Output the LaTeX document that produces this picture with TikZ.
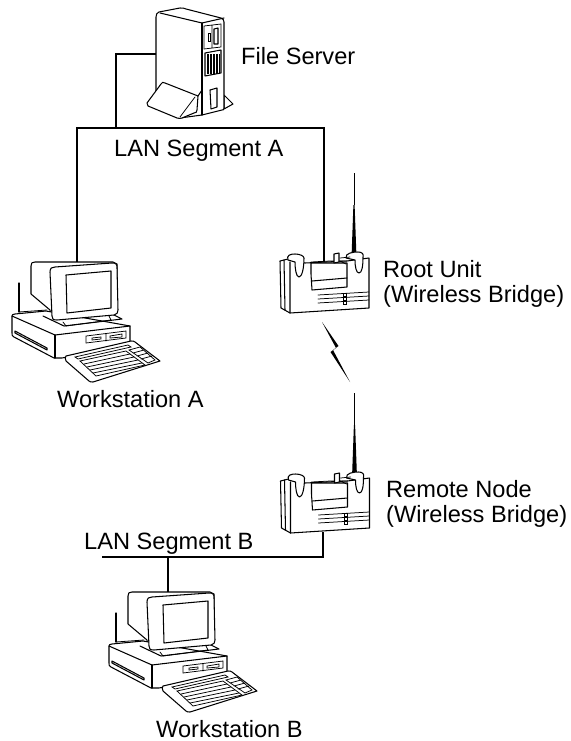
\documentclass[tikz,border=0pt]{standalone}
\usepackage{fontspec}
\setmainfont{Liberation Sans}
\tikzset{
  x=1pt,y=-1pt,
  lan/.style={line width=2.5pt,line join=miter},
  ln/.style={line width=1.05pt,line join=round,line cap=round},
  thin ln/.style={line width=.75pt,line cap=round},
  lbl/.style={font=\fontsize{23.6pt}{25pt}\selectfont,inner sep=0pt,align=left,anchor=base west},
  pics/workstation/.style={code={
    % wire and monitor back
    \draw[ln] (19,283) -- (19,312);
    \draw[ln,line width=.8pt] (19,312) -- (47,310);
    \draw[ln,fill=white] (50,310) -- (31,294) -- (31,266) .. controls (31,263) and (32,262) .. (35,262) -- (113,262) -- (117,264) -- (117,290) -- (52,320) -- cycle;
    % base
    \draw[ln,fill=white] (12,316) .. controls (12,315) and (13,314) .. (15,314) -- (46,311) -- (130,326) -- (130,344) -- (62,358) -- (54,358) -- (14,337) .. controls (12,336) and (12,335) .. (12,333) -- cycle;
    \draw[ln] (12,316) -- (55,335) -- (130,326);
    \draw[ln] (55,335) -- (55,358);
    \draw[ln] (43,316) -- (64,326) -- (122,319) -- (110,313);
    % slot
    \draw[ln] (15,331) -- (47,348) -- (47,350) -- (15,333) -- cycle;
    % drive
    \draw[thin ln] (86,336) -- (126,331) -- (126,338) -- (86,343) -- cycle (106,334) -- (106,341);
    \draw[thin ln] (92,338) -- (101,337) -- (101,339) -- (92,340) -- cycle (110,336) -- (122,334) -- (122,337) -- (110,338) -- cycle;
    % monitor front
    \draw[ln,fill=white] (50,272) .. controls (50,268) and (52,267) .. (55,267) -- (112,263) .. controls (116,263) and (117,264) .. (117,268) -- (118,310) .. controls (118,313) and (117,314) .. (114,315) -- (57,320) .. controls (53,320) and (52,319) .. (52,316) -- cycle;
    \draw[ln] (66,275) -- (111,271) -- (111,308) -- (67,313) -- cycle;
    \draw[thin ln] (63,322) -- (66,326) -- (111,320) -- (109,316);
    % keyboard
    \draw[ln,fill=white] (66,356) -- (131,341) .. controls (133,341) and (134,341) .. (135,342) -- (160,361) -- (93,382) .. controls (91,382) and (90,382) .. (89,381) -- (66,361) .. controls (65,359) and (65,357) .. (66,356) -- cycle;
    \draw[thin ln] (75,357) -- (128,345) -- (131,347) -- (78,359) -- cycle;
    \draw[thin ln] (80,361) -- (126,351) -- (145,365) -- (96,376) -- cycle;
    \draw[thin ln] (84,364) -- (130,354) (87,367) -- (134,357) (90,370) -- (138,360) (93,373) -- (142,363);
    \draw[thin ln] (129,350) -- (140,347) -- (155,360) -- (148,363) -- cycle (133,353) -- (144,350) (137,356) -- (148,353) (141,359) -- (152,356);
  }},
  pics/bridge/.style={code={
    % antenna
    \draw[line width=1pt] (354,173) -- (354,205);
    \fill (353.4,205) -- (354.6,205) -- (356.3,252) -- (351.7,252) -- cycle;
    % body
    \draw[ln,fill=white] (280,261) -- (281,308) -- (290,313) -- (369,308) -- (369,258) -- (347,261) -- (305,263) -- (288,259) -- cycle;
    \draw[ln] (284,260) -- (285,310) (290,262) -- (290,313);
    % ears
    \draw[ln,fill=white] (288,260) .. controls (286,255) and (291,254) .. (295,254) .. controls (300,254) and (304,256) .. (304,258) .. controls (304,268) and (302,277) .. (299,277) .. controls (296,277) and (295,268) .. (295,262) -- cycle;
    \draw[ln,fill=white] (346,258) .. controls (345,253) and (353,252) .. (358,252) .. controls (362,252) and (364,254) .. (363,257) .. controls (363,266) and (362,273) .. (359,273) .. controls (356,273) and (355,266) .. (355,260) -- cycle;
    % window
    \draw[ln,fill=white] (311,263) -- (311,274) -- (312,290) -- (347,287) -- (347,263) -- cycle;
    \draw[ln] (312,281) -- (347,278);
    \draw[thin ln] (311,262) -- (330,261) -- (347,261);
    % post
    \draw[ln,fill=white] (334,254) -- (339,253) -- (339,262) -- (334,263) -- cycle;
    \draw[thin ln] (340,258) -- (350,257) (340,261) -- (346,264);
    % stripes
    \draw[thin ln] (318,295) -- (369,292) (318,299) -- (369,296) (318,303) -- (369,300);
    \foreach \yy in {293,297,301} \draw[line width=.7pt,fill=white] (343.5,\yy) rectangle (346.5,\yy+3);
  }},
  pics/server/.style={code={
    \draw[ln,fill=white] (224,95) -- (233,104) -- (224,109) -- cycle;
    \draw[ln,fill=white] (156,17) .. controls (156,14) and (157,13) .. (159,12) -- (180,8) .. controls (183,8) and (184,8) .. (186,9) -- (221,18) .. controls (223,19) and (224,20) .. (224,22) -- (224,108) .. controls (224,110) and (223,110) .. (222,110) -- (202,115) -- (180,118) -- (156,100) -- cycle;
    \draw[ln] (160,13) -- (202,23) -- (224,18);
    \draw[ln] (202,23) -- (202,115);
    % drives
    \draw[thin ln] (204,26) -- (221,24) -- (221,47) -- (204,49) -- cycle (212,25) -- (212,48);
    \draw[thin ln] (208,33) -- (208,41) -- (210,41) -- (210,33) -- cycle;
    \draw[ln] (214,29) -- (214,44) -- (218,44) -- (218,28) -- cycle;
    % grille
    \draw[ln] (205,53) -- (221,50) -- (221,73) -- (205,76) -- cycle;
    \foreach \xx in {207,208.5,...,219.5} \draw[line width=.5pt] (\xx,54) -- (\xx,74);
    % slot
    \draw[ln] (210,90) -- (217,88) -- (217,107) -- (211,109) -- cycle;
    % stand
    \draw[ln,fill=white] (147,103) -- (161,84) .. controls (162,82) and (163,82) .. (165,83) -- (198,96) -- (197,110) .. controls (197,112) and (196,113) .. (194,113) -- (182,118) .. controls (180,119) and (179,118) .. (177,118) -- (148,106) .. controls (147,105) and (147,104) .. (147,103) -- cycle;
    \draw[thin ln] (195,97) -- (180,117);
    \draw[ln] (198,96) -- (202,90);
  }}
}
\begin{document}
\begin{tikzpicture}
\useasboundingbox (0,0) rectangle (570,741);
% connector anchor points
\coordinate (srv) at (156,54);
\coordinate (segAL) at (77,128);
\coordinate (segAR) at (324,128);
\coordinate (segAS) at (116,128);
\coordinate (wsA) at (77,262);
\coordinate (root) at (324,262);
\coordinate (segBL) at (102,557);
\coordinate (segBR) at (323,557);
\coordinate (segBS) at (168,557);
\coordinate (rem) at (323,532);
\coordinate (wsB) at (168,592);
\draw[lan] (srv) -| (segAS);
\draw[lan] (wsA) -- (segAL) -- (segAR) -- (root);
\draw[lan] (segBL) -- (segBR) -- (rem);
\draw[lan] (segBS) -- (wsB);
% equipment
\pic {server};
\pic {workstation};
\pic at (97,330) {workstation};
\pic {bridge};
\pic at (0.5,220) {bridge};
% wireless link
\fill (322,322) -- (338.5,346) -- (333,350) -- (350,382) -- (330.5,352) -- (336,348) -- cycle;
% labels
\node[lbl] (lServer) at (241,65) {File Server};
\node[lbl] (lA) at (114,157) {LAN Segment A};
\node[lbl] (lRoot) at (383,302) {Root Unit\\(Wireless Bridge)};
\node[lbl] (lWA) at (57,407) {Workstation A};
\node[lbl] (lRem) at (386,522) {Remote Node\\(Wireless Bridge)};
\node[lbl] (lB) at (84,549) {LAN Segment B};
\node[lbl] (lWB) at (156,737) {Workstation B};
\end{tikzpicture}
\end{document}
